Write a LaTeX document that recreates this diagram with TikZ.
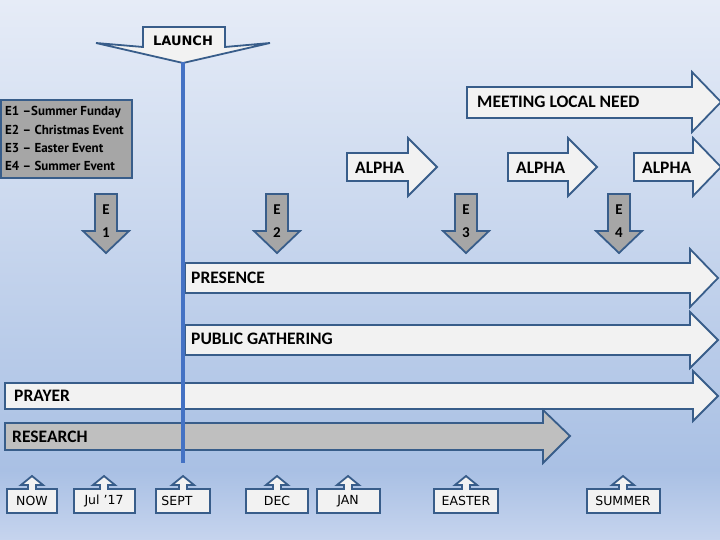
\documentclass[tikz,border=0pt]{standalone}
\usepackage{fontspec}
\setmainfont{Carlito}
\newfontfamily\dvs{DejaVu Sans}
\newfontfamily\ptsans{PT Sans}
\definecolor{edge}{HTML}{385D8A}
\definecolor{lightfill}{HTML}{F2F2F2}
\definecolor{grayfill}{HTML}{A6A6A6}
\definecolor{resfill}{HTML}{BFBFBF}
\definecolor{vline}{HTML}{4472C4}
\definecolor{bgtop}{HTML}{E6ECF7}
\definecolor{bgmid}{HTML}{A9C0E4}
\definecolor{bgbot}{HTML}{C6D4EE}
\newcommand\myEarrow[3]{%
  \draw[grayarrow] ({#1-11},194)--({#1+11},194)--({#1+11},231)--({#1+23},231)--(#1,253)--({#1-23},231)--({#1-11},231)--cycle;
  \node[etext] (#2e) at (#1,210) {E};
  \node[etext] (#2n) at (#1,233) {#3};}
\newcommand\mycallout[6]{%
  \draw[lightarrow] (#1,489)--({#3-4},489)--({#3-4},485)--({#3-11},485)--(#3,476)--({#3+11},485)--({#3+4},485)--({#3+4},489)--(#2,489)--(#2,513)--(#1,513)--cycle;
  \node[smalllabel] (#4) at (#6,501) {#5};}
\begin{document}
\begin{tikzpicture}[x=1pt,y=-1pt,
  shapeline/.style={draw=edge,line width=1.8pt,line join=miter},
  lightarrow/.style={shapeline,fill=lightfill},
  grayarrow/.style={shapeline,fill=grayfill},
  resarrow/.style={shapeline,fill=resfill},
  biglabel/.style={font=\fontsize{17.5}{20}\selectfont\bfseries,anchor=west,inner sep=0pt,text=black},
  etext/.style={font=\fontsize{15}{18}\selectfont\bfseries,inner sep=0pt,text=black},
  smalllabel/.style={font=\dvs\fontsize{12.5}{15}\selectfont,inner sep=0pt,text=black},
  legendtext/.style={font=\ptsans\bfseries\fontsize{13}{15}\selectfont,anchor=west,inner sep=0pt,text=black}]
\useasboundingbox (0,0) rectangle (720,540);
\shade[top color=bgtop,bottom color=bgmid] (0,0) rectangle (720,471);
\shade[top color=bgmid,bottom color=bgbot] (0,470) rectangle (720,540);

% LAUNCH callout
\draw[lightarrow] (143,27)--(225,27)--(225,47)--(270,43)--(183,63)--(96,43)--(143,47)--cycle;
\node[font=\dvs\bfseries\fontsize{13}{16}\selectfont,inner sep=0pt] (launch) at (183,41) {LAUNCH};
\coordinate (launchtip) at (183,62);
\coordinate (lineend) at (183,463);

% legend
\draw[fill=grayfill,draw=edge,line width=1.5pt] (1,100) rectangle (132,178);
\node[legendtext] (l1) at (5,112) {E1 –Summer Funday};
\node[legendtext] (l2) at (5,130) {E2 – Christmas Event};
\node[legendtext] (l3) at (5,148) {E3 – Easter Event};
\node[legendtext] (l4) at (5,166) {E4 – Summer Event};

% meeting local need
\draw[lightarrow] (467,87)--(692,87)--(692,72)--(721,102)--(692,132)--(692,118)--(467,118)--cycle;
\node[biglabel] (mln) at (477,102) {MEETING LOCAL NEED};

% alpha arrows
\draw[lightarrow] (347,153)--(408,153)--(408,138)--(437,167)--(408,196)--(408,181)--(347,181)--cycle;
\node[biglabel] (alpha1) at (355,168) {ALPHA};
\draw[lightarrow] (508,153)--(568,153)--(568,138)--(597,167)--(568,196)--(568,181)--(508,181)--cycle;
\node[biglabel] (alpha2) at (516,168) {ALPHA};
\draw[lightarrow] (634,153)--(693,153)--(693,138)--(721,167)--(693,196)--(693,181)--(634,181)--cycle;
\node[biglabel] (alpha3) at (642,168) {ALPHA};

% event arrows
\myEarrow{106}{ea}{1}
\myEarrow{277}{eb}{2}
\myEarrow{466}{ec}{3}
\myEarrow{619}{ed}{4}

% long arrows
\draw[lightarrow] (185,263)--(690,263)--(690,249)--(718,278)--(690,307)--(690,293)--(185,293)--cycle;
\node[biglabel] (presence) at (191,278) {PRESENCE};
\draw[lightarrow] (185,325)--(690,325)--(690,312)--(718,340)--(690,368)--(690,355)--(185,355)--cycle;
\node[biglabel] (public) at (191,339) {PUBLIC GATHERING};
\draw[lightarrow] (5,383)--(693,383)--(693,371)--(718,396)--(693,421)--(693,409)--(5,409)--cycle;
\node[biglabel] (prayer) at (14,396) {PRAYER};
\draw[resarrow] (5,423)--(543,423)--(543,410)--(570,436)--(543,463)--(543,450)--(5,450)--cycle;
\node[biglabel] (research) at (12,437) {RESEARCH};

% timeline line
\draw[vline,line width=4pt] (launchtip)--(lineend);

% bottom callouts
\mycallout{7}{57}{32}{now}{NOW}{32}
\mycallout{74}{135}{104}{jul}{Jul ’17}{104}
\mycallout{156}{210}{183}{sept}{SEPT}{177}
\mycallout{246}{308}{277}{dec}{DEC}{277}
\mycallout{317}{380}{348}{jan}{JAN}{348}
\mycallout{434}{498}{466}{easter}{EASTER}{466}
\mycallout{587}{660}{623}{summer}{SUMMER}{623}
\end{tikzpicture}
\end{document}
